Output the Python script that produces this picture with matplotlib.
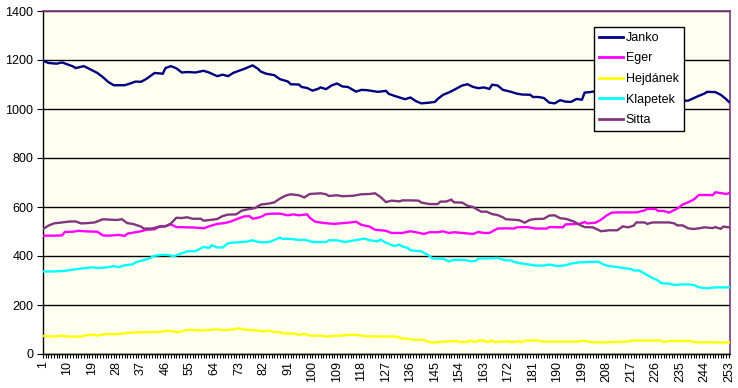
import matplotlib
matplotlib.use("Agg")
import matplotlib.pyplot as plt
from matplotlib.ticker import FixedLocator, MultipleLocator

plt.rcParams['font.family'] = ['Liberation Sans', 'DejaVu Sans']

# (category index, value) pairs
janko = [(1,1197),(3,1188),(6,1185),(8,1190),(10,1182),(12,1174),(13,1167),(16,1175),(18,1164),
         (21,1147),(23,1130),(25,1110),(27,1097),(31,1097),(33,1104),(35,1112),(37,1111),(39,1123),
         (42,1147),(45,1144),(46,1167),(48,1175),(50,1166),(52,1149),(54,1151),(57,1149),(60,1156),
         (62,1149),(65,1134),(67,1140),(69,1134),(71,1148),(73,1156),(75,1164),(78,1178),(80,1164),
         (81,1153),(83,1144),(86,1138),(88,1122),(91,1112),(92,1101),(95,1100),(96,1090),(98,1086),
         (100,1075),(102,1082),(103,1088),(105,1081),(107,1096),(109,1104),(111,1092),(113,1090),
         (116,1071),(118,1078),(120,1077),(124,1070),(127,1074),(128,1062),(130,1054),(132,1047),
         (134,1040),(136,1047),(138,1032),(140,1023),(143,1026),(145,1029),(146,1041),(148,1058),
         (150,1067),(152,1078),(155,1096),(157,1101),(159,1090),(161,1085),(163,1088),(165,1082),
         (166,1099),(168,1096),(170,1078),(173,1070),(175,1063),(177,1059),(180,1058),(181,1049),
         (183,1049),(185,1045),(187,1026),(189,1023),(191,1036),(193,1030),(195,1029),(197,1041),
         (199,1038),(200,1067),(202,1069),(203,1071),(206,1072),(212,1066),(218,1060),(224,1052),
         (230,1044),(234,1037),(236,1034),(238,1034),(240,1044),(242,1054),(244,1063),(245,1070),
         (248,1069),(250,1058),(252,1040),(253,1029)]

eger = [(1,483),(5,483),(8,484),(9,498),(12,499),(14,503),(16,501),(21,499),(23,484),(25,483),
        (29,486),(31,482),(32,491),(34,495),(37,501),(39,507),(42,509),(44,522),(46,522),(48,529),
        (50,518),(54,517),(57,516),(60,513),(62,521),(65,531),(68,535),(70,541),(73,554),(75,562),
        (77,562),(78,552),(81,559),(83,571),(86,573),(88,573),(91,566),(93,570),(95,566),(98,570),
        (99,556),(101,540),(104,535),(108,531),(111,534),(114,537),(116,540),(118,527),(121,520),
        (123,507),(127,503),(129,494),(133,494),(136,501),(138,497),(141,490),(143,497),(146,497),
        (148,501),(150,494),(152,497),(155,494),(159,490),(161,498),(163,494),(165,494),(168,512),
        (171,513),(174,512),(175,517),(179,518),(182,512),(186,512),(187,518),(192,517),(193,529),
        (198,531),(200,539),(201,533),(204,536),(206,548),(208,565),(210,577),(213,578),(216,578),
        (219,578),(222,586),(223,592),(226,592),(227,584),(229,584),(231,577),(233,588),(234,593),
        (236,610),(238,619),(240,630),(242,649),(245,649),(247,648),(248,660),(250,657),(252,653),
        (253,656)]

hejdanek = [(1,74),(5,71),(8,75),(10,71),(15,71),(16,75),(19,79),(21,75),(22,78),(24,81),(29,81),
            (31,85),(34,88),(40,89),(44,90),(46,95),(48,93),(51,89),(53,96),(55,99),(59,96),(64,100),
            (66,100),(67,97),(71,100),(73,105),(75,99),(80,96),(82,92),(84,95),(86,89),(88,90),(89,84),
            (93,84),(95,78),(97,82),(99,75),(103,75),(105,71),(108,74),(110,75),(115,79),(118,75),
            (120,72),(131,71),(133,63),(135,62),(137,58),(141,58),(142,51),(144,47),(146,48),(149,51),
            (153,53),(154,49),(157,49),(158,55),(160,49),(161,55),(163,55),(164,49),(166,55),(167,49),
            (172,52),(173,48),(176,52),(177,48),(178,55),(183,55),(184,51),(198,51),(199,55),(202,49),
            (206,47),(216,51),(217,55),(228,55),(229,49),(231,53),(239,53),(240,49),(243,47),(245,49),
            (247,47),(253,47)]

klapetek = [(1,337),(5,337),(9,339),(11,343),(13,346),(16,350),(19,354),(21,351),(24,353),(27,358),
            (29,355),(31,362),(34,366),(35,374),(37,380),(40,390),(42,401),(45,405),(47,404),(49,399),
            (51,407),(54,419),(57,420),(60,437),(62,433),(63,444),(65,435),(67,435),(69,452),(71,455),
            (73,456),(76,459),(78,464),(80,457),(82,456),(84,457),(86,465),(88,475),(89,470),(92,470),
            (95,465),(97,467),(100,457),(105,457),(106,464),(109,464),(112,457),(115,463),(119,471),
            (121,464),(124,460),(125,467),(127,454),(130,441),(132,446),(133,439),(135,433),(136,423),
            (140,419),(143,400),(144,390),(148,389),(150,378),(152,384),(156,384),(158,378),(160,380),
            (161,390),(164,390),(168,392),(171,382),(173,382),(174,376),(176,371),(179,366),(182,361),
            (185,361),(187,365),(190,359),(193,362),(195,369),(198,374),(201,375),(205,377),(207,365),
            (209,359),(212,355),(214,351),(217,347),(218,341),(220,341),(221,335),(223,322),(225,310),
            (227,300),(228,290),(231,287),(233,282),(236,284),(238,284),(240,282),(242,272),(245,268),
            (248,272),(251,272),(253,272)]

sitta = [(1,510),(3,524),(5,533),(8,537),(11,541),(13,541),(15,533),(17,534),(20,537),(23,550),
         (26,548),(28,547),(30,550),(32,534),(34,531),(37,520),(38,512),(41,512),(43,518),(46,521),
         (48,533),(50,556),(52,555),(54,558),(56,552),(59,552),(60,544),(63,548),(65,551),(67,563),
         (69,569),(72,570),(74,585),(76,590),(79,596),(81,610),(84,614),(86,619),(88,634),(90,646),
         (92,652),(95,648),(97,639),(99,653),(103,656),(105,652),(106,645),(109,648),(111,644),
         (115,646),(118,652),(121,653),(123,656),(125,641),(127,620),(129,626),(132,623),(133,627),
         (136,627),(139,626),(140,618),(143,612),(146,612),(147,622),(149,622),(151,630),(152,619),
         (155,618),(157,605),(159,600),(160,593),(162,581),(164,581),(166,571),(168,567),(170,558),
         (171,550),(174,548),(176,546),(178,536),(180,548),(182,551),(185,552),(187,565),(189,566),
         (191,554),(193,552),(196,541),(198,528),(200,518),(203,517),(205,507),(206,501),(209,505),
         (212,505),(214,521),(216,517),(218,524),(219,537),(222,537),(223,531),(225,537),(228,537),
         (231,537),(233,533),(234,525),(236,525),(238,513),(240,510),(242,513),(244,517),(247,514),
         (248,518),(250,511),(251,520),(253,517)]

series_names = ["Janko", "Eger", "Hejdánek", "Klapetek", "Sitta"]
series_data = [janko, eger, hejdanek, klapetek, sitta]
series_colors = ["#000080", "#FF00FF", "#FFFF00", "#00FFFF", "#80367F"]

n_categories = 253
tick_labels = list(range(1, n_categories + 1, 9))
y_ticks = [0, 200, 400, 600, 800, 1000, 1200, 1400]

W, H = 738, 388
fig = plt.figure(figsize=(W / 100, H / 100), dpi=100)
fig.patch.set_facecolor("white")
ax = fig.add_axes([43 / W, (H - 354) / H, 687 / W, 343 / H])
ax.set_facecolor("#FFFFF0")

for name, data, col in zip(series_names, series_data, series_colors):
    xs = [p[0] for p in data]
    ys = [p[1] for p in data]
    ax.plot(xs, ys, color=col, lw=1.7, label=name, solid_joinstyle="miter", zorder=3)

ax.set_xlim(1, n_categories + 0.4)
ax.set_ylim(0, 1400)
ax.set_yticks(y_ticks)
ax.set_yticklabels([str(v) for v in y_ticks], fontsize=9)
ax.yaxis.grid(True, color="black", lw=1.0)
ax.set_axisbelow(True)

ax.xaxis.set_major_locator(FixedLocator(tick_labels))
ax.set_xticklabels([str(v) for v in tick_labels], rotation=90, fontsize=9)
ax.xaxis.set_minor_locator(MultipleLocator(1))
ax.tick_params(axis="x", which="both", direction="out", length=3, width=0.8, pad=2)
ax.tick_params(axis="y", which="major", direction="out", length=4, width=0.8, pad=3)

for s in ["left", "bottom"]:
    ax.spines[s].set_color("black")
    ax.spines[s].set_linewidth(1.0)
for s in ["top", "right"]:
    ax.spines[s].set_color("#80367F")
    ax.spines[s].set_linewidth(1.2)

leg = ax.legend(loc="upper left", bbox_to_anchor=(594 / W, 1 - 27 / H),
                bbox_transform=fig.transFigure, frameon=True, fancybox=False,
                fontsize=9, handlelength=1.9, handletextpad=0.25,
                borderpad=0.4, labelspacing=0.68, borderaxespad=0)
leg.get_frame().set_edgecolor("black")
leg.get_frame().set_linewidth(1.0)
leg.get_frame().set_facecolor("white")
leg.get_frame().set_alpha(1)
for line in leg.get_lines():
    line.set_linewidth(2.0)

fig.savefig("out.png", dpi=100, facecolor="white")
